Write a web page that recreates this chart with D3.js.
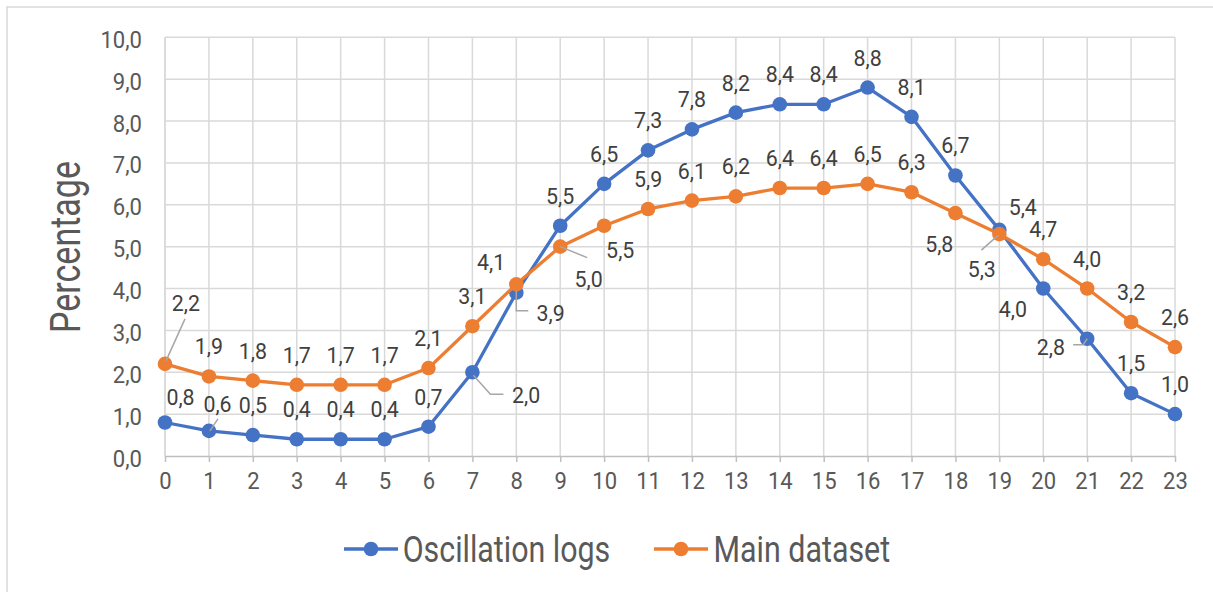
<!DOCTYPE html>
<html>
<head>
<meta charset="utf-8">
<script src="https://cdn.jsdelivr.net/npm/d3@7"></script>
<style>
  html, body { margin: 0; padding: 0; background: #ffffff; }
  svg { display: block; font-family: Roboto, "Liberation Sans", sans-serif; }
</style>
</head>
<body>
<svg id="chart" width="1213" height="592"></svg>
<script>
// Hour of day categories and the two percentage series
const hours = ["0","1","2","3","4","5","6","7","8","9","10","11","12","13","14","15","16","17","18","19","20","21","22","23"];
const oscillationLogs = [0.8, 0.6, 0.5, 0.4, 0.4, 0.4, 0.7, 2.0, 3.9, 5.5, 6.5, 7.3, 7.8, 8.2, 8.4, 8.4, 8.8, 8.1, 6.7, 5.4, 4.0, 2.8, 1.5, 1.0];
const mainDataset     = [2.2, 1.9, 1.8, 1.7, 1.7, 1.7, 2.1, 3.1, 4.1, 5.0, 5.5, 5.9, 6.1, 6.2, 6.4, 6.4, 6.5, 6.3, 5.8, 5.3, 4.7, 4.0, 3.2, 2.6];
const yTicks = [0, 1, 2, 3, 4, 5, 6, 7, 8, 9, 10];
const seriesNames = ["Oscillation logs", "Main dataset"];
const seriesColors = ["#4472c4", "#ed7d31"];

// Data label placement: default sits above the point; these move individual labels
// [dx, dy] from the point centre to the label centre, and optional leader-line points
const blueLabelMoves = {
  0: { d: [15.5, -25.5] },
  1: { d: [8.6, -27.2], leader: [[1, 0], [9, -12]] },
  7: { d: [53.7, 22.7], leader: [[1, 3], [18, 22], [31, 22]] },
  8: { d: [34.4, 20.3], leader: [[0, -2], [0, 18], [12, 18]] },
  19: { d: [23.4, -22.9] },
  20: { d: [-30.3, 20.7] },
  21: { d: [-36.4, 7.9], leader: [[-14, 6], [-4, 6], [0, 0]] }
};
const orangeLabelMoves = {
  0: { d: [20.8, -60.6], leader: [[1, -3], [20, -45]] },
  8: { d: [-25.2, -22.6] },
  9: { d: [28.4, 32.5], leader: [[0, 0], [27, 11]] },
  10: { d: [16.1, 24.3] },
  18: { d: [-16.2, 30.6] },
  19: { d: [-17.6, 35.4], leader: [[-1, 1], [-18, 16]] }
};

const svg = d3.select("#chart");
const fmt = v => d3.format(".1f")(v).replace(".", ",");

const x = d3.scalePoint().domain(hours).range([165, 1175]);
const y = d3.scaleLinear().domain([0, 10]).range([456, 37.3]);

// Chart area border
svg.append("rect")
  .attr("x", 7).attr("y", 7).attr("width", 1230).attr("height", 620)
  .attr("fill", "none").attr("stroke", "#d9d9d9").attr("stroke-width", 1.5);

// Gridlines
const grid = svg.append("g").attr("stroke", "#d9d9d9").attr("stroke-width", 1.5);
grid.selectAll("line.h").data(yTicks.slice(1)).join("line")
  .attr("x1", x.range()[0]).attr("x2", x.range()[1])
  .attr("y1", d => y(d)).attr("y2", d => y(d));
grid.selectAll("line.v").data(hours).join("line")
  .attr("x1", d => x(d)).attr("x2", d => x(d))
  .attr("y1", y(10)).attr("y2", y(0));

// Y axis labels (slightly narrowed digits)
const yAxis = svg.append("g")
  .attr("transform", "translate(142,0)")
  .call(d3.axisLeft(y).tickValues(yTicks).tickFormat(fmt).tickSize(0).tickPadding(0));
yAxis.select(".domain").remove();
yAxis.selectAll("text")
  .attr("font-family", "Roboto, sans-serif").attr("font-size", 24)
  .attr("fill", "#595959").attr("dy", "0.42em")
  .attr("transform", "scale(0.92,1)");

// Vertical axis line at the left of the plot
svg.append("line")
  .attr("x1", 165).attr("x2", 165).attr("y1", y(10)).attr("y2", y(0))
  .attr("stroke", "#d9d9d9").attr("stroke-width", 1.5);

// X axis
const xAxis = svg.append("g")
  .attr("transform", `translate(0,${y(0)})`)
  .call(d3.axisBottom(x).tickSizeInner(6).tickSizeOuter(0).tickPadding(20));
xAxis.select(".domain").attr("stroke", "#bfbfbf").attr("stroke-width", 1.5);
xAxis.selectAll(".tick line").attr("stroke", "#bfbfbf").attr("stroke-width", 1.5);
xAxis.selectAll("text")
  .attr("font-family", "Roboto, sans-serif").attr("font-size", 24.5)
  .attr("fill", "#595959").attr("dy", "0.3em")
  .attr("transform", "scale(0.9,1)");

// Axis title
svg.append("g")
  .attr("transform", "translate(80,247) rotate(-90) scale(0.81,1)")
  .append("text")
  .attr("text-anchor", "middle")
  .attr("font-size", 42).attr("fill", "#595959")
  .text("Percentage");

// Series lines and markers
const seriesData = [oscillationLogs, mainDataset];
const line = d3.line().x((d, i) => x(hours[i])).y(d => y(d));

seriesData.forEach((vals, s) => {
  svg.append("path")
    .datum(vals)
    .attr("d", line)
    .attr("fill", "none")
    .attr("stroke", seriesColors[s])
    .attr("stroke-width", 3.3)
    .attr("stroke-linejoin", "round");
  svg.append("g").selectAll("circle").data(vals).join("circle")
    .attr("cx", (d, i) => x(hours[i]))
    .attr("cy", d => y(d))
    .attr("r", 7.3)
    .attr("fill", seriesColors[s]);
});

// Data labels with leader lines
const labelMoves = [blueLabelMoves, orangeLabelMoves];
const labelLayer = svg.append("g");
seriesData.forEach((vals, s) => {
  vals.forEach((v, i) => {
    const px = x(hours[i]), py = y(v);
    const mv = labelMoves[s][i];
    const d = mv ? mv.d : [0, -30];
    if (mv && mv.leader) {
      labelLayer.append("polyline")
        .attr("points", mv.leader.map(p => `${px + p[0]},${py + p[1]}`).join(" "))
        .attr("fill", "none").attr("stroke", "#a6a6a6").attr("stroke-width", 1.5);
    }
    labelLayer.append("g")
      .attr("transform", `translate(${px + d[0]},${py + d[1] + 8}) scale(0.95,1)`)
      .append("text")
      .attr("text-anchor", "middle")
      .attr("font-size", 22.5)
      .attr("fill", "#404040")
      .text(fmt(v));
  });
});

// Legend
const legendItems = [
  { lx: 344, tx: 402.7 },
  { lx: 654, tx: 713.6 }
];
legendItems.forEach((it, s) => {
  const g = svg.append("g");
  g.append("line")
    .attr("x1", it.lx).attr("x2", it.lx + 54).attr("y1", 549).attr("y2", 549)
    .attr("stroke", seriesColors[s]).attr("stroke-width", 3.3);
  g.append("circle")
    .attr("cx", it.lx + 27).attr("cy", 549).attr("r", 7.3)
    .attr("fill", seriesColors[s]);
  g.append("g")
    .attr("transform", `translate(${it.tx},561.7) scale(0.81,1)`)
    .append("text")
    .attr("font-size", 37.5).attr("fill", "#595959")
    .text(seriesNames[s]);
});
</script>
</body>
</html>
